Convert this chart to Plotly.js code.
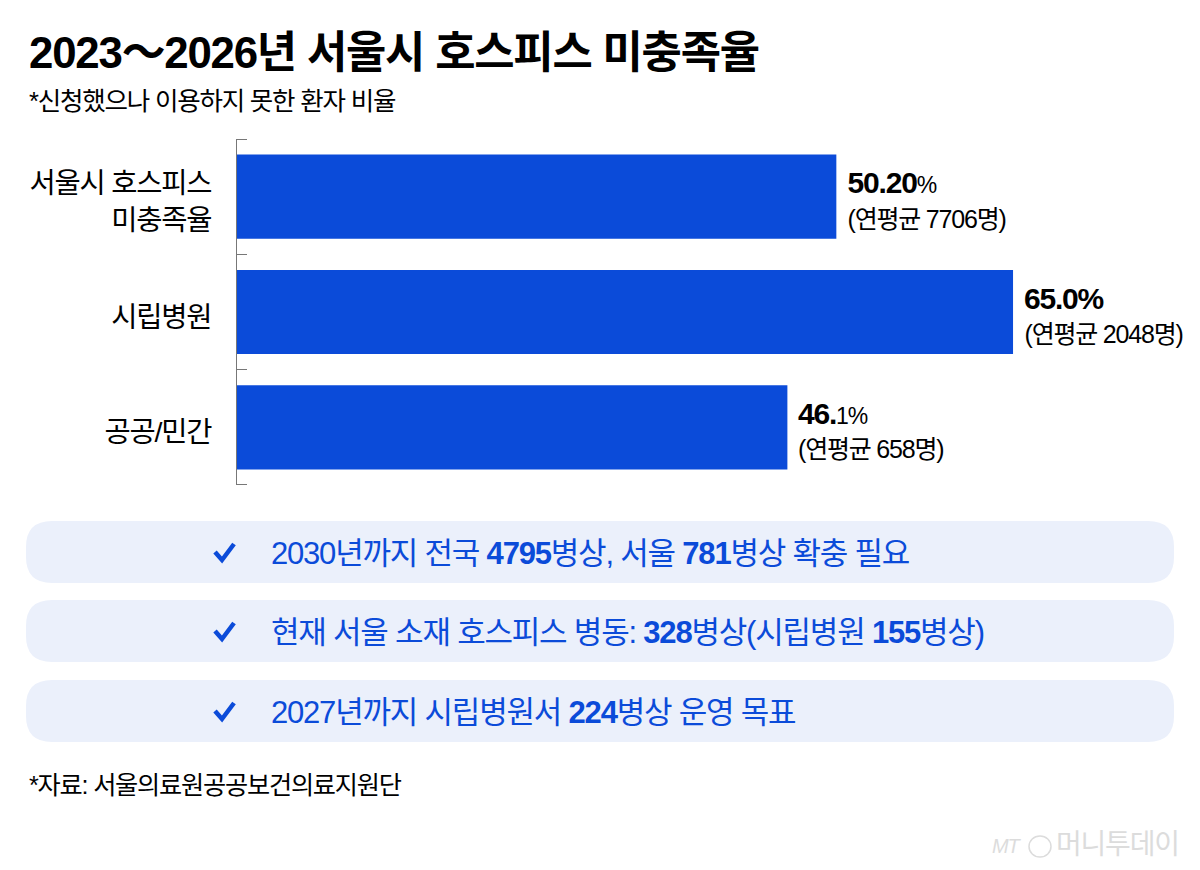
<!DOCTYPE html>
<html>
<head>
<meta charset="utf-8">
<script src="https://cdn.plot.ly/plotly-3.0.1.min.js"></script>
<style>
  body { margin: 0; background: #fff; }
  #chart { width: 1200px; height: 870px; }
  #chart text { letter-spacing: -1.2px; }
</style>
</head>
<body>
<div id="chart"></div>
<script>
// DATA
var categories = ['서울시 호스피스<br>미충족율', '시립병원', '공공/민간'];
var rates = [50.2, 65.0, 46.1];
var rateBold = ['50.20', '65.0%', '46.'];
var rateRest = ['%', '', '1%'];
var yearlyPatients = ['(연평균 7706명)', '(연평균 2048명)', '(연평균 658명)'];
var notes = [
  '2030년까지 전국 <b>4795</b>병상, 서울 <b>781</b>병상 확충 필요',
  '현재 서울 소재 호스피스 병동: <b>328</b>병상(시립병원 <b>155</b>병상)',
  '2027년까지 시립병원서 <b>224</b>병상 운영 목표'
];

var FONT = '"Liberation Sans", "Noto Sans CJK KR", sans-serif';
var BLUE = '#0b4bd9';
var AXIS = '#777';

// pixel position -> paper coordinates of the plot area below
var left = 237, right = 1200, top_ = 139, bottom = 485;
function px(x) { return (x - left) / (right - left); }
function py(y) { return (bottom - y) / (bottom - top_); }

function note_text(x, y, text, size, color, anchor) {
  return {
    xref: 'paper', yref: 'paper', x: px(x), y: py(y),
    text: text, showarrow: false, xanchor: anchor || 'left', yanchor: 'middle',
    align: 'left', font: {family: FONT, size: size, color: color || '#000'}
  };
}

function pill(y0, y1) {
  var x0 = 26, x1 = 1174, r = 26;
  return {
    type: 'path', xref: 'paper', yref: 'paper', layer: 'below',
    fillcolor: '#ebf0fb', line: {width: 0},
    path: 'M' + px(x0 + r) + ',' + py(y0) +
      ' L' + px(x1 - r) + ',' + py(y0) +
      ' Q' + px(x1) + ',' + py(y0) + ' ' + px(x1) + ',' + py(y0 + r) +
      ' L' + px(x1) + ',' + py(y1 - r) +
      ' Q' + px(x1) + ',' + py(y1) + ' ' + px(x1 - r) + ',' + py(y1) +
      ' L' + px(x0 + r) + ',' + py(y1) +
      ' Q' + px(x0) + ',' + py(y1) + ' ' + px(x0) + ',' + py(y1 - r) +
      ' L' + px(x0) + ',' + py(y0 + r) +
      ' Q' + px(x0) + ',' + py(y0) + ' ' + px(x0 + r) + ',' + py(y0) + ' Z'
  };
}

function check(cy) {
  return {
    type: 'path', xref: 'paper', yref: 'paper',
    line: {color: BLUE, width: 4.5},
    path: 'M' + px(215) + ',' + py(cy) + ' L' + px(222) + ',' + py(cy + 8) + ' L' + px(234) + ',' + py(cy - 8)
  };
}

// plotly drops the two outer boundary ticks, so draw them here
function end_tick(y) {
  return {
    type: 'line', xref: 'paper', yref: 'paper',
    x0: px(237), x1: px(247), y0: py(y), y1: py(y),
    line: {color: AXIS, width: 1}
  };
}

var trace = {
  type: 'bar',
  orientation: 'h',
  x: rates,
  y: categories,
  marker: {color: BLUE},
  hoverinfo: 'skip'
};

// watermark logo ring
var shapes = [{
  type: 'circle', xref: 'paper', yref: 'paper', layer: 'below',
  x0: px(1029), x1: px(1051), y0: py(836), y1: py(857),
  line: {color: '#dcdcdc', width: 1.5}
}, end_tick(139.5), end_tick(484.5)];
var annotations = [
  note_text(27, 53, '<b>2023～2026년 서울시 호스피스 미충족율</b>', 43.8),
  note_text(27, 101, '*신청했으나 이용하지 못한 환자 비율', 25.5),
  note_text(27, 785, '*자료: 서울의료원공공보건의료지원단', 25.2),
  note_text(1187, 845, '머니투데이', 28, '#dcdcdc', 'right'),
  note_text(990, 846, '<i>MT</i>', 20, '#dcdcdc')
];

var pillTops = [521, 600, 680];
for (var i = 0; i < notes.length; i++) {
  shapes.push(pill(pillTops[i], pillTops[i] + 62));
  shapes.push(check(pillTops[i] + 31));
  annotations.push(note_text(269, pillTops[i] + 32, notes[i], 31, BLUE));
}

// bar labels
for (var j = 0; j < categories.length; j++) {
  annotations.push({
    xref: 'x', yref: 'y', x: rates[j], y: categories[j], xshift: 6, yshift: 14,
    text: '<b>' + rateBold[j] + '</b><span style="font-size:23px">' + rateRest[j] + '</span>', showarrow: false,
    xanchor: 'left', yanchor: 'middle', font: {family: FONT, size: 30, color: '#000'}
  });
  annotations.push({
    xref: 'x', yref: 'y', x: rates[j], y: categories[j], xshift: 3, yshift: -22,
    text: yearlyPatients[j], showarrow: false,
    xanchor: 'left', yanchor: 'middle', font: {family: FONT, size: 25, color: '#000'}
  });
}

var layout = {
  width: 1200,
  height: 870,
  margin: {l: left, r: 1200 - right, t: top_, b: 870 - bottom, pad: 0},
  paper_bgcolor: '#fff',
  plot_bgcolor: '#fff',
  showlegend: false,
  bargap: 0.27,
  xaxis: {
    range: [0, 80.66],
    visible: false,
    fixedrange: true
  },
  yaxis: {
    type: 'category',
    autorange: 'reversed',
    showgrid: false,
    zeroline: false,
    showline: true,
    linecolor: AXIS,
    linewidth: 1,
    ticks: 'inside',
    tickson: 'boundaries',
    ticklen: 10,
    tickcolor: AXIS,
    tickwidth: 1,
    ticklabelstandoff: 19,
    ticklabelshift: -5,
    tickfont: {family: FONT, size: 28.5, color: '#000'},
    fixedrange: true
  },
  shapes: shapes,
  annotations: annotations
};

Plotly.newPlot('chart', [trace], layout, {displayModeBar: false, responsive: false});
</script>
</body>
</html>
